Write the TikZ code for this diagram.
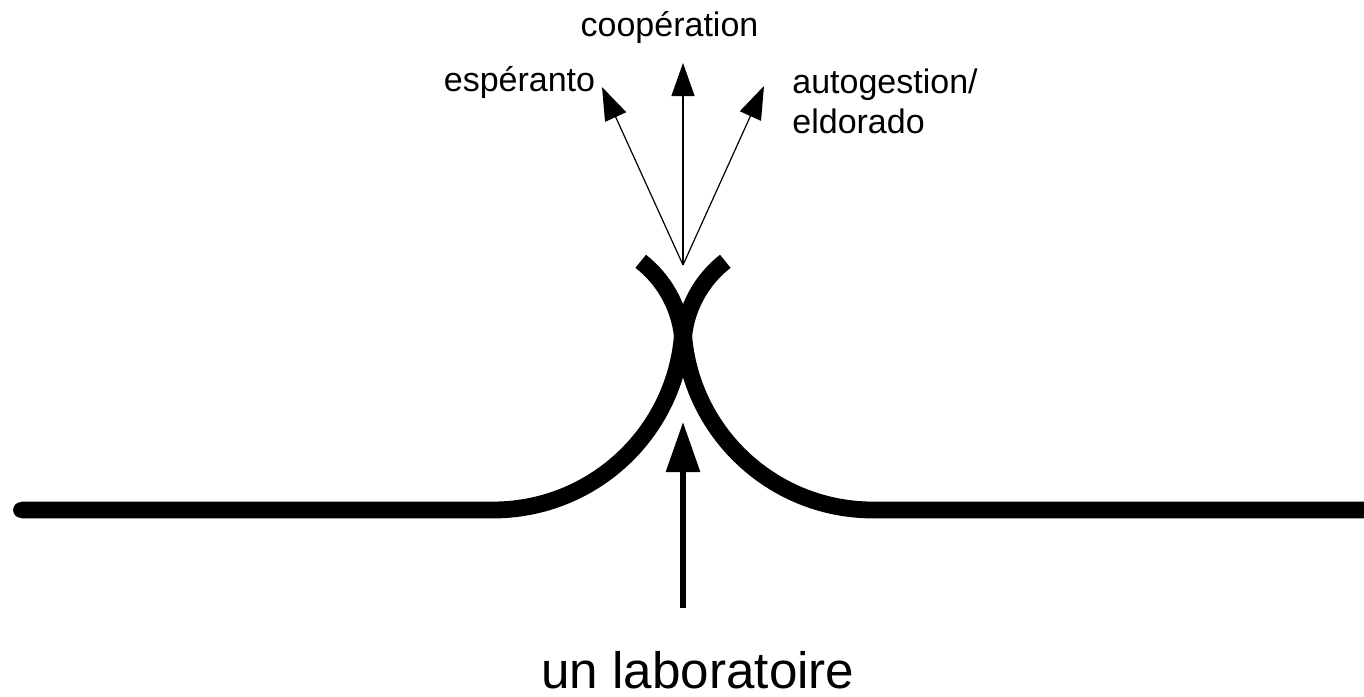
\documentclass[tikz,border=0pt]{standalone}
\usepackage{fontspec}
\setmainfont{Liberation Sans}
\usetikzlibrary{arrows.meta}
\begin{document}
\begin{tikzpicture}[x=0.5pt,y=-0.5pt,
  road/.style={line width=8.4pt,line cap=butt,black},
  thinarrow/.style={line width=0.6pt,-{Triangle[length=16.5pt,width=11.5pt]}},
  bigarrow/.style={line width=3pt,-{Triangle[length=25pt,width=16.5pt]}},
  small/.style={font=\fontsize{17}{20}\selectfont,inner sep=0pt},
  big/.style={font=\fontsize{25.6}{30}\selectfont,inner sep=0pt}]
\useasboundingbox (0,0) rectangle (1364,696);
% left road rising into the crossing
\draw[road] (21.5,510) -- (493,510)
  .. controls (597.9,510) and (683,424.9) .. (683,320);
\draw[road,line cap=round] (21.5,510) -- (120,510);
% right road rising into the crossing
\draw[road] (1372,510) -- (873,510)
  .. controls (768.1,510) and (683,424.9) .. (683,320);
% the two upper arms
\draw[road] (683,360) -- (683,348)
  .. controls (683,314) and (698.6,282.2) .. (725.3,261.3);
\draw[road] (683,360) -- (683,348)
  .. controls (683,314) and (667.4,282.2) .. (640.7,261.3);
% coordinates
\coordinate (apex) at (683,265);
\coordinate (tipE) at (602,87);
\coordinate (tipC) at (683,63);
\coordinate (tipA) at (764,86);
\coordinate (labtop) at (683,608);
\coordinate (labtip) at (683,422);
% arrows
\draw[thinarrow] (apex) -- (tipE);
\draw[thinarrow] (apex) -- (tipC);
\draw[thinarrow] (apex) -- (tipA);
\draw[bigarrow] (labtop) -- (labtip);
% labels
\node[small,anchor=base] (coop) at (669.5,36) {coopération};
\node[small,anchor=base] (esp) at (519.5,91) {espéranto};
\node[small,anchor=base west,align=left] (auto) at (792,133) {autogestion/\\eldorado};
\node[big,anchor=base] (lab) at (698,688) {un laboratoire};
\end{tikzpicture}
\end{document}
